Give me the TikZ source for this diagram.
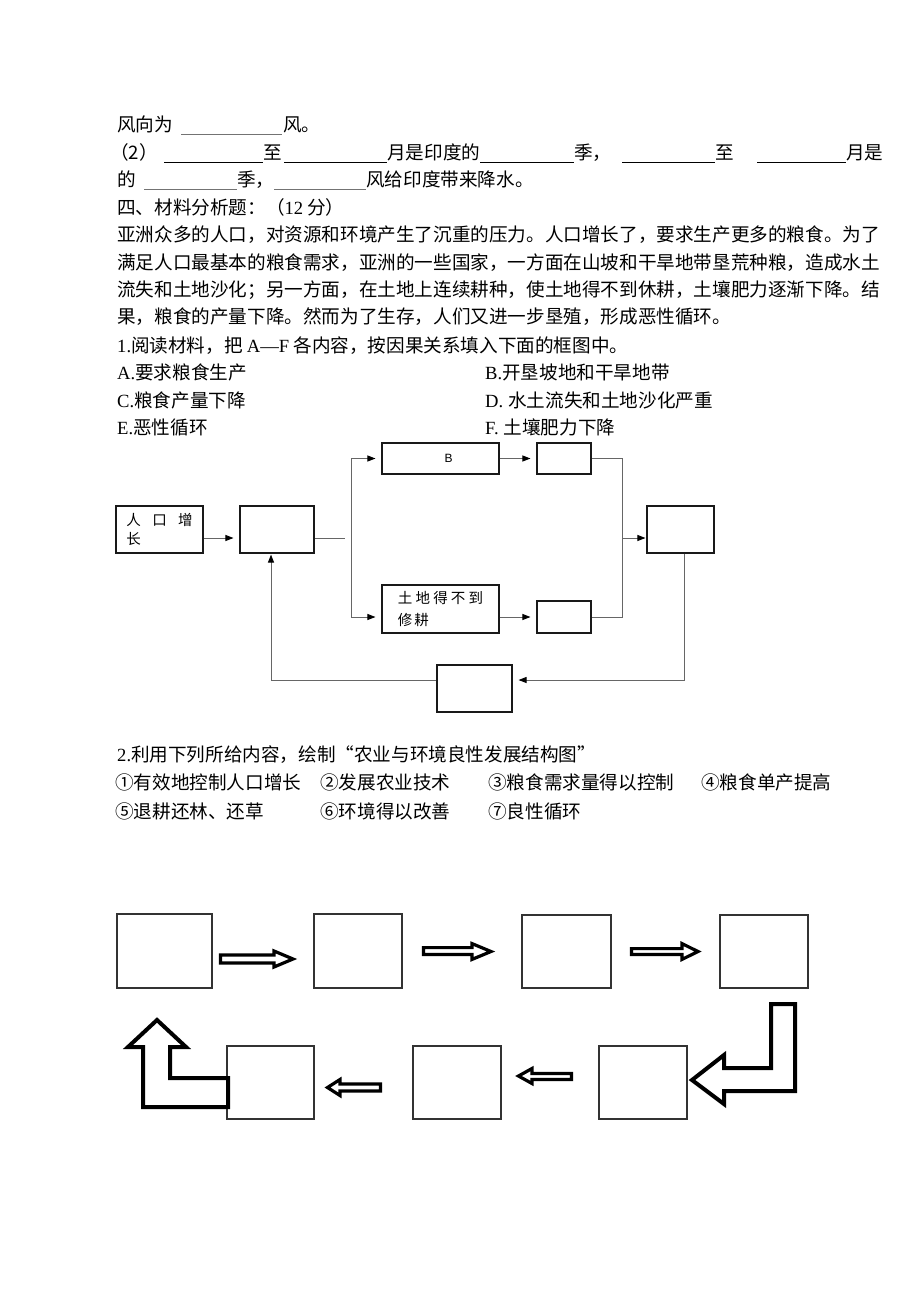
\documentclass[tikz,border=0pt]{standalone}
\usepackage{fontspec}
\setmainfont{Noto Sans CJK SC}
\newfontfamily\lat{Liberation Serif}
\newfontfamily\arl{Liberation Sans}
\usetikzlibrary{arrows.meta}
\begin{document}
\begin{tikzpicture}[x=1pt,y=-1pt,
  txt/.style={anchor=base west,inner sep=0pt,font=\fontsize{18.6}{22}\selectfont},
  blank/.style={line width=0.9pt,black!55},
  blankdark/.style={line width=0.9pt,black},
  box/.style={draw=black!90,line width=1.1pt,inner sep=0pt},
  conn/.style={draw=black!60,line width=0.9pt},
  arr/.style={-{Triangle[length=8pt,width=6pt,color=black]},shorten >=6pt},
  arrS/.style={-{Triangle[length=8pt,width=6pt,color=black]},shorten >=1pt},
  gbox/.style={draw=black!80,line width=1.1pt,inner sep=0pt},
  harrow/.style={draw=black,line width=3.2pt,fill=white,line join=miter},
  bigarrow/.style={draw=black,line width=4pt,fill=white,line join=miter}
]
\useasboundingbox (0,0) rectangle (920,1300);

% ---------- text lines ----------
\node[txt] (t1a) at (117,131.5) {风向为};
\draw[blank] (181,134.5) -- (282,134.5);
\node[txt] (t1b) at (283,131.5) {风。};

\node[txt] (t2a) at (110,159.5) {（2）};
\draw[blankdark] (164,162.5) -- (263,162.5);
\node[txt] (t2b) at (263,159.5) {至};
\draw[blankdark] (284,162.5) -- (387,162.5);
\node[txt] (t2c) at (387,159.5) {月是印度的};
\draw[blankdark] (480,162.5) -- (574,162.5);
\node[txt] (t2d) at (574,159.5) {季，};
\draw[blankdark] (622,162.5) -- (715,162.5);
\node[txt] (t2e) at (715,159.5) {至};
\draw[blankdark] (757,162.5) -- (846,162.5);
\node[txt] (t2f) at (846,159.5) {月是};

\node[txt] (t3a) at (117,186.5) {的};
\draw[blank] (144,189.5) -- (237,189.5);
\node[txt] (t3b) at (237,186.5) {季，};
\draw[blank] (274,189.5) -- (366,189.5);
\node[txt] (t3c) at (366,186.5) {风给印度带来降水。};

\node[txt] (t4) at (117,214.5) {四、材料分析题：（{\lat 12} 分）};
\node[txt] (t5) at (117,241.5) {亚洲众多的人口，对资源和环境产生了沉重的压力。人口增长了，要求生产更多的粮食。为了};
\node[txt] (t6) at (117,269.5) {满足人口最基本的粮食需求，亚洲的一些国家，一方面在山坡和干旱地带垦荒种粮，造成水土};
\node[txt] (t7) at (117,296.5) {流失和土地沙化；另一方面，在土地上连续耕种，使土地得不到休耕，土壤肥力逐渐下降。结};
\node[txt] (t8) at (117,323.5) {果，粮食的产量下降。然而为了生存，人们又进一步垦殖，形成恶性循环。};
\node[txt] (t9) at (117,352.5) {{\lat 1.}阅读材料，把 {\lat A—F} 各内容，按因果关系填入下面的框图中。};
\node[txt] (tA) at (117,379.5) {{\lat A.}要求粮食生产};
\node[txt] (tB) at (485,379.5) {{\lat B.}开垦坡地和干旱地带};
\node[txt] (tC) at (117,407.5) {{\lat C.}粮食产量下降};
\node[txt] (tD) at (485,407.5) {{\lat D.}\hspace{5pt}水土流失和土地沙化严重};
\node[txt] (tE) at (117,434.5) {{\lat E.}恶性循环};
\node[txt] (tF) at (485,434.5) {{\lat F.}\hspace{5pt}土壤肥力下降};

\node[txt] (t13) at (117,761.5) {{\lat 2.}利用下列所给内容，绘制“农业与环境良性发展结构图”};
\node[txt] (o1) at (115,789.5) {①有效地控制人口增长};
\node[txt] (o2) at (320,789.5) {②发展农业技术};
\node[txt] (o3) at (488,789.5) {③粮食需求量得以控制};
\node[txt] (o4) at (701,789.5) {④粮食单产提高};
\node[txt] (o5) at (115,818.5) {⑤退耕还林、还草};
\node[txt] (o6) at (320,818.5) {⑥环境得以改善};
\node[txt] (o7) at (488,818.5) {⑦良性循环};

% ---------- diagram 1 ----------
\node[box,minimum width=87pt,minimum height=47pt,align=left,font=\fontsize{14.5}{19}\selectfont] (b1) at (159.5,529.5) {人\hspace{11.5pt}口\hspace{11.5pt}增\\长};
\node[box,minimum width=74pt,minimum height=47pt] (b2) at (277,529.5) {};
\node[box,minimum width=117pt,minimum height=31pt,font=\arl\fontsize{12}{14}\selectfont] (bB) at (440.5,458.5) {\hspace{16pt}B};
\node[box,minimum width=117pt,minimum height=48pt,align=left,font=\fontsize{14.5}{22}\selectfont] (bL) at (440.5,609) {土\kern3.2pt 地\kern3.2pt 得\kern3.2pt 不\kern3.2pt 到\\修\kern2pt 耕};
\node[box,minimum width=54pt,minimum height=31pt] (b3) at (564,458.5) {};
\node[box,minimum width=54pt,minimum height=32pt] (b4) at (564,617) {};
\node[box,minimum width=67pt,minimum height=47pt] (b5) at (680.5,529.5) {};
\node[box,minimum width=75pt,minimum height=47pt] (b6) at (474.5,688.5) {};

\coordinate (gapEnd) at (345,538);
\coordinate (vtop) at (351,458.5);
\coordinate (vbot) at (351,617);
\coordinate (rtop) at (622,458.5);
\coordinate (rbot) at (622,617);
\coordinate (rmid) at (622,538);
\coordinate (lb) at (684,680);
\coordinate (ll) at (271,680);

\draw[conn,arr] ([yshift=-8.5pt]b1.east) -- ([yshift=-8.5pt]b2.west);
\draw[conn] ([yshift=-8.5pt]b2.east) -- (gapEnd);
\draw[conn,arr] (vbot) -- (vtop) -- (bB.west);
\draw[conn,arr] (vbot) -- (bL.west |- vbot);
\draw[conn,arr] (bB.east) -- (b3.west);
\draw[conn,arr] (bL.east |- b4.west) -- (b4.west);
\draw[conn] (b3.east) -- (rtop) -- (rbot) -- (b4.east);
\draw[conn,arrS] (rmid) -- (b5.west |- rmid);
\draw[conn,arr] ([xshift=3.5pt]b5.south) -- (lb) -- (b6.east |- lb);
\draw[conn,arrS] (b6.west |- lb) -- (ll) -- (b2.south -| ll);

% ---------- diagram 2 ----------
\node[gbox,minimum width=95pt,minimum height=74pt] (r1) at (164.5,951) {};
\node[gbox,minimum width=88pt,minimum height=74pt] (r2) at (358,951) {};
\node[gbox,minimum width=89pt,minimum height=73pt] (r3) at (566.5,951.5) {};
\node[gbox,minimum width=88pt,minimum height=73pt] (r4) at (764,951.5) {};
\node[gbox,minimum width=88pt,minimum height=73pt] (r5) at (643,1082.5) {};
\node[gbox,minimum width=88pt,minimum height=73pt] (r6) at (457,1082.5) {};
\node[gbox,minimum width=87pt,minimum height=73pt] (r7) at (270.5,1082.5) {};

% hollow arrows, row 1 (rightwards)
\draw[harrow] (220.5,955) -- (274,955) -- (274,951) -- (293,959) -- (274,967) -- (274,963) -- (220.5,963) -- cycle;
\draw[harrow] (423.5,947.6) -- (472,947.6) -- (472,943.6) -- (491,951.5) -- (472,959.4) -- (472,954.4) -- (423.5,954.4) -- cycle;
\draw[harrow] (631.5,948.6) -- (682,948.6) -- (682,943.6) -- (698,951.5) -- (682,959.4) -- (682,954.4) -- (631.5,954.4) -- cycle;
% hollow arrows, row 2 (leftwards)
\draw[harrow] (571.5,1073.5) -- (532,1073.5) -- (532,1068.5) -- (518.5,1076) -- (532,1083.5) -- (532,1079.5) -- (571.5,1079.5) -- cycle;
\draw[harrow] (380.5,1084) -- (340,1084) -- (340,1079.5) -- (327.5,1087.5) -- (340,1095.5) -- (340,1091) -- (380.5,1091) -- cycle;
% bent arrows
\draw[bigarrow] (771,1004) -- (795,1004) -- (795,1091) -- (724,1091) -- (724,1104) -- (692,1080) -- (724,1055) -- (724,1068) -- (771,1068) -- cycle;
\draw[bigarrow] (143,1047) -- (128,1047) -- (157,1020) -- (186,1047) -- (170,1047) -- (170,1078) -- (228,1078) -- (228,1107) -- (143,1107) -- cycle;
\end{tikzpicture}
\end{document}
